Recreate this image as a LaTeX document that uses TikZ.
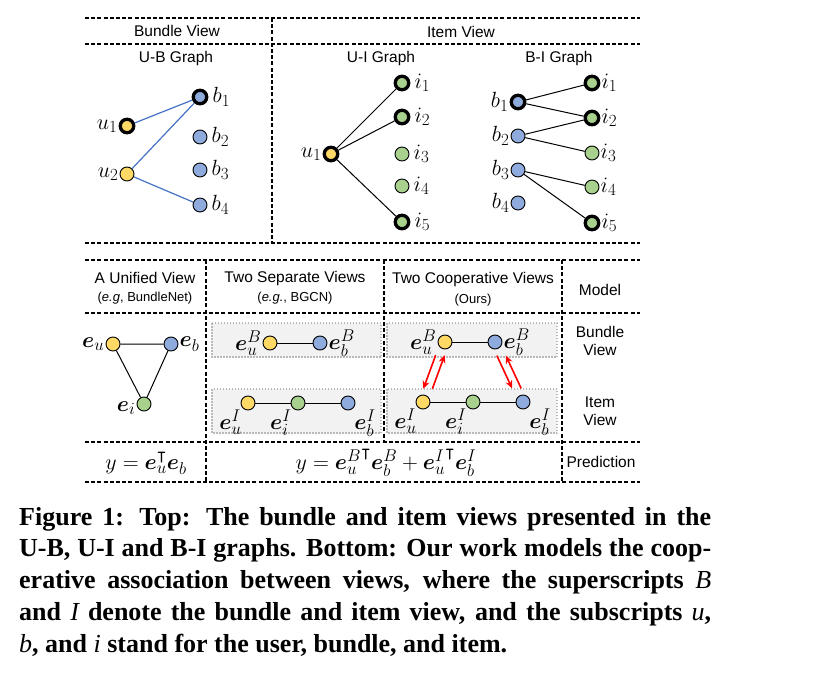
\RequirePackage{fix-cm}
\documentclass[tikz,border=0pt]{standalone}
\usepackage{amsmath,amssymb}
\usepackage{bm}
\usepackage{fontspec}
\setmainfont{Liberation Serif}
\setsansfont{Liberation Sans}
\usetikzlibrary{arrows.meta, positioning, calc}

\definecolor{userc}{HTML}{FFD966}
\definecolor{bundlec}{HTML}{8FAADC}
\definecolor{itemc}{HTML}{A9D18E}
\definecolor{panec}{HTML}{F2F2F2}
\definecolor{ublink}{HTML}{4472C4}

\DeclareMathSizes{22}{22}{17}{13}
\newcommand{\capvar}[1]{{\mdseries\itshape #1}}

\begin{document}
\begin{tikzpicture}[
  x=1pt, y=-1pt,
  dot/.style={circle, draw, line width=0.9pt, minimum size=14pt, inner sep=0pt},
  user/.style={dot, fill=userc},
  bundle/.style={dot, fill=bundlec},
  item/.style={dot, fill=itemc},
  hot/.style={line width=3.3pt, minimum size=13.5pt},
  sep/.style={line width=1.1pt, dash pattern=on 4pt off 2.2pt},
  pane/.style={draw=gray!55, line width=1.6pt, dash pattern=on 1.5pt off 1.5pt, fill=panec},
  head/.style={font=\sffamily\fontsize{15.5}{18}\selectfont, inner sep=1pt},
  note/.style={font=\sffamily\fontsize{13}{15}\selectfont, inner sep=1pt},
  lbl/.style={font=\fontsize{22}{24}\selectfont, inner sep=1pt},
  every label/.style={lbl},
  link/.style={line width=1pt},
  ublk/.style={draw=ublink, line width=1.2pt},
  redarr/.style={draw=red, line width=1.6pt, -{Stealth[length=8pt, width=7pt]}},
  caption/.style={font=\bfseries\fontsize{26}{31.7}\selectfont, text width=692pt,
                  align=justify, inner sep=0pt}
]
\useasboundingbox (0,0) rectangle (822,696);

% top: views and graphs
\draw[sep] (85,18) -- (640,18);
\draw[sep] (85,44) -- (640,44);
\draw[sep] (85,243) -- (640,243);
\draw[sep] (272,18) -- (272,243);

\node[head] (hbundle) at (177,31) {Bundle View};
\node[head] (hitem)   at (461,32) {Item View};
\node[head] (gub) at (176,58) {U-B Graph};
\node[head] (gui) at (381,58) {U-I Graph};
\node[head] (gbi) at (559,58) {B-I Graph};

% U-B graph
\node[user, hot, label=left:{$u_1$}] (ubu1) at (127,126) {};
\node[user, label=left:{$u_2$}]      (ubu2) at (127,174) {};
\node[bundle, hot, label={[label distance=3pt]right:{$b_1$}}] (ubb1) at (200,97) {};
\node[bundle, label={[label distance=3pt]right:{$b_2$}}] (ubb2) at (200,137) {};
\node[bundle, label={[label distance=3pt]right:{$b_3$}}] (ubb3) at (200,170) {};
\node[bundle, label={[label distance=3pt]right:{$b_4$}}] (ubb4) at (200,205) {};
\draw[ublk] (ubu1) -- (ubb1);
\draw[ublk] (ubu2) -- (ubb1);
\draw[ublk] (ubu2) -- (ubb4);

% U-I graph
\node[user, hot, label=left:{$u_1$}] (uiu1) at (331,154) {};
\node[item, hot, label={[label distance=3pt]right:{$i_1$}}] (uii1) at (402,83) {};
\node[item, hot, label={[label distance=3pt]right:{$i_2$}}] (uii2) at (402,117) {};
\node[item, label={[label distance=3pt]right:{$i_3$}}] (uii3) at (402,154) {};
\node[item, label={[label distance=3pt]right:{$i_4$}}] (uii4) at (402,186) {};
\node[item, hot, label={[label distance=3pt]right:{$i_5$}}] (uii5) at (402,222) {};
\draw[link] (uiu1) -- (uii1);
\draw[link] (uiu1) -- (uii2);
\draw[link] (uiu1) -- (uii5);

% B-I graph
\node[bundle, hot, label=left:{$b_1$}] (bib1) at (518,102) {};
\node[bundle, label=left:{$b_2$}] (bib2) at (518,136) {};
\node[bundle, label=left:{$b_3$}] (bib3) at (518,170) {};
\node[bundle, label=left:{$b_4$}] (bib4) at (518,203) {};
\node[item, hot, label=right:{$i_1$}] (bii1) at (592,83) {};
\node[item, hot, label=right:{$i_2$}] (bii2) at (592,118) {};
\node[item, label=right:{$i_3$}] (bii3) at (592,153) {};
\node[item, label=right:{$i_4$}] (bii4) at (592,187) {};
\node[item, hot, label=right:{$i_5$}] (bii5) at (592,223) {};
\draw[link] (bib1) -- (bii1);
\draw[link] (bib1) -- (bii2);
\draw[link] (bib2) -- (bii2);
\draw[link] (bib2) -- (bii3);
\draw[link] (bib3) -- (bii4);
\draw[link] (bib3) -- (bii5);

% bottom: models
\draw[pane] (212,323) rectangle (381,357);
\draw[pane] (212,389) rectangle (381,433);
\draw[pane] (387,323) rectangle (557,357);
\draw[pane] (387,389) rectangle (557,433);

\draw[sep] (85,260) -- (640,260);
\draw[sep] (85,313) -- (640,313);
\draw[sep] (85,442) -- (640,442);
\draw[sep] (85,482) -- (640,482);
\draw[sep] (206,260) -- (206,482);
\draw[sep] (384,260) -- (384,442);
\draw[sep] (562,260) -- (562,482);

\node[head] (munified) at (145,278) {A Unified View};
\node[note] (nunified) at (145,298) {(\textit{e.g}, BundleNet)};
\node[head] (mseparate) at (295,278) {Two Separate Views};
\node[note] (nseparate) at (295,298) {(\textit{e.g.}, BGCN)};
\node[head] (mcoop) at (473,279) {Two Cooperative Views};
\node[note] (ncoop) at (473,300) {(Ours)};
\node[head] (rmodel) at (600,290) {Model};
\node[head, align=center] (rbundle) at (600,341) {Bundle\\View};
\node[head, align=center] (ritem) at (600,411) {Item\\View};
\node[head] (rpred) at (601,462) {Prediction};

% unified view
\node[user, label=left:{$\bm{e}_u$}] (uniu) at (113,344) {};
\node[bundle, label=right:{$\bm{e}_b$}] (unib) at (171,344) {};
\node[item, label={[yshift=-4pt]left:{$\bm{e}_i$}}] (unii) at (144,404) {};
\draw[link] (uniu) -- (unib) -- (unii) -- (uniu);

% separate views
\node[user, label=left:{$\bm{e}_u^B$}] (sepub) at (270,343) {};
\node[bundle, label=right:{$\bm{e}_b^B$}] (sepbb) at (320,343) {};
\draw[link] (sepub) -- (sepbb);
\node[user, label=below left:{$\bm{e}_u^I$}] (sepui) at (248,403) {};
\node[item, label=below left:{$\bm{e}_i^I$}] (sepii) at (298,403) {};
\node[bundle, label=below right:{$\bm{e}_b^I$}] (sepbi) at (348,403) {};
\draw[link] (sepui) -- (sepii) -- (sepbi);

% cooperative views
\node[user, label=left:{$\bm{e}_u^B$}] (coub) at (445,342) {};
\node[bundle, label=right:{$\bm{e}_b^B$}] (cobb) at (495,342) {};
\draw[link] (coub) -- (cobb);
\node[user, label=below left:{$\bm{e}_u^I$}] (coui) at (423,402) {};
\node[item, label=below left:{$\bm{e}_i^I$}] (coii) at (473,402) {};
\node[bundle, label=below right:{$\bm{e}_b^I$}] (cobi) at (523,402) {};
\draw[link] (coui) -- (coii) -- (cobi);

\draw[redarr, shorten <=14pt, shorten >=14pt] ([xshift=-4.5pt]coub.center) -- ([xshift=-4.5pt]coui.center);
\draw[redarr, shorten <=14pt, shorten >=14pt] ([xshift=4.5pt]coui.center) -- ([xshift=4.5pt]coub.center);
\draw[redarr, shorten <=15pt, shorten >=15pt] ([xshift=-4.5pt]cobb.center) -- ([xshift=-4.5pt]cobi.center);
\draw[redarr, shorten <=15pt, shorten >=15pt] ([xshift=4.5pt]cobi.center) -- ([xshift=4.5pt]cobb.center);

% prediction row
\node[lbl] (predone) at (146,463) {$y = \bm{e}_u^{\intercal}\bm{e}_b$};
\node[lbl] (predtwo) at (386,463) {$y = {\bm{e}_u^B}^{\intercal}\bm{e}_b^B + {\bm{e}_u^I}^{\intercal}\bm{e}_b^I$};

% caption
\node[caption, anchor=north west] (cap) at (19,507) {Figure 1: Top: The bundle and item views presented in the\linebreak
U-B, U-I and B-I graphs. Bottom: Our work models the coop-\linebreak
erative association between views, where the superscripts \capvar{B}\linebreak
and \capvar{I} denote the bundle and item view, and the subscripts \capvar{u},\linebreak
\capvar{b}, and \capvar{i} stand for the user, bundle, and item.};
\end{tikzpicture}
\end{document}
